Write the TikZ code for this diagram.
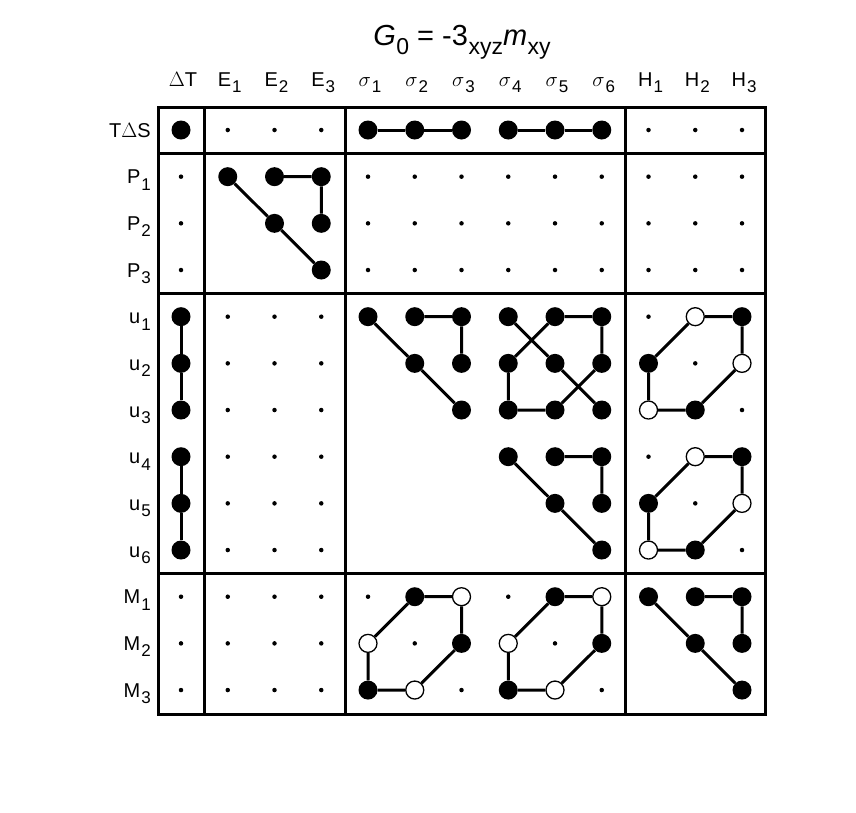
\documentclass[tikz,border=0pt]{standalone}
\usepackage{fontspec}
\setmainfont{Liberation Sans}
\newcommand\sbs[1]{\kern1pt\raisebox{-0.6ex}{\fontsize{17}{17}\selectfont #1}}
\newcommand\tsbs[1]{\kern0.5pt\raisebox{-0.6ex}{\fontsize{23}{23}\selectfont #1}}
\newcommand\dotnode[3]{\node[#1] (d-#2-#3) at ({181+46.75*#2},{130+46.67*#3}) {};}
\newcommand\tribl[2]{%
 \pgfmathtruncatemacro\tca{#1+1}\pgfmathtruncatemacro\tcb{#1+2}%
 \pgfmathtruncatemacro\tra{#2+1}\pgfmathtruncatemacro\trb{#2+2}%
 \dotnode{big}{#1}{#2}\dotnode{big}{\tca}{#2}\dotnode{big}{\tcb}{#2}%
 \dotnode{big}{\tca}{\tra}\dotnode{big}{\tcb}{\tra}\dotnode{big}{\tcb}{\trb}%
 \draw[link] (d-#1-#2)--(d-\tca-\tra)--(d-\tcb-\trb) (d-\tca-#2)--(d-\tcb-#2)--(d-\tcb-\tra);}
\newcommand\hexbl[4]{%
 \pgfmathtruncatemacro\tca{#1+1}\pgfmathtruncatemacro\tcb{#1+2}%
 \pgfmathtruncatemacro\tra{#2+1}\pgfmathtruncatemacro\trb{#2+2}%
 \dotnode{small}{#1}{#2}\dotnode{small}{\tca}{\tra}\dotnode{small}{\tcb}{\trb}%
 \dotnode{#3}{\tca}{#2}\dotnode{#3}{\tcb}{\tra}\dotnode{#3}{#1}{\trb}%
 \dotnode{#4}{\tcb}{#2}\dotnode{#4}{#1}{\tra}\dotnode{#4}{\tca}{\trb}%
 \draw[link] (d-#1-\tra)--(d-\tca-#2)--(d-\tcb-#2)--(d-\tcb-\tra)--(d-\tca-\trb)--(d-#1-\trb)--(d-#1-\tra);}
\begin{document}
\begin{tikzpicture}[x=1pt,y=-1pt,
 big/.style={circle,fill=black,inner sep=0pt,minimum size=19pt},
 open/.style={circle,draw=black,fill=white,line width=1.3pt,inner sep=0pt,minimum size=18pt},
 small/.style={circle,fill=black,inner sep=0pt,minimum size=4.5pt},
 link/.style={line width=3pt},
 frame/.style={line width=3pt},
 lab/.style={font=\fontsize{20}{20}\selectfont,inner sep=0pt}]
\useasboundingbox (0,0) rectangle (856,812);
\node[lab,font=\fontsize{29}{29}\selectfont] (title) at (462,42) {\textit{G}\tsbs{0} = -3\tsbs{xyz}\textit{m}\tsbs{xy}};
\foreach \t [count=\i from 0] in {$\Delta$T,E\sbs{1},E\sbs{2},E\sbs{3},$\sigma$\sbs{1},$\sigma$\sbs{2},$\sigma$\sbs{3},$\sigma$\sbs{4},$\sigma$\sbs{5},$\sigma$\sbs{6},H\sbs{1},H\sbs{2},H\sbs{3}}
 \node[lab,anchor=base] (h\i) at ({183+46.75*\i},86) {\t};
\foreach \t [count=\i from 0] in {T$\Delta$S,P\sbs{1},P\sbs{2},P\sbs{3},u\sbs{1},u\sbs{2},u\sbs{3},u\sbs{4},u\sbs{5},u\sbs{6},M\sbs{1},M\sbs{2},M\sbs{3}}
 \node[lab,anchor=base east] (r\i) at (151,{137+46.67*\i}) {\t};
\draw[frame] (158,107) rectangle (765,714);
\draw[frame] (204,107) -- (204,714) (345,107) -- (345,714) (625,107) -- (625,714)
 (158,153) -- (765,153) (158,293) -- (765,293) (158,573) -- (765,573);
\foreach \c/\r in {1/0,2/0,3/0,10/0,11/0,12/0,
 0/1,0/2,0/3,1/4,2/4,3/4,1/5,2/5,3/5,1/6,2/6,3/6,1/7,2/7,3/7,1/8,2/8,3/8,1/9,2/9,3/9,
 0/10,1/10,2/10,3/10,0/11,1/11,2/11,3/11,0/12,1/12,2/12,3/12}
 {\dotnode{small}{\c}{\r}}
\foreach \r in {1,2,3} \foreach \c in {4,...,12} {\dotnode{small}{\c}{\r}}
\dotnode{big}{0}{0}
\foreach \c in {4,...,9} {\dotnode{big}{\c}{0}}
\draw[link] (d-4-0)--(d-5-0)--(d-6-0) (d-7-0)--(d-8-0)--(d-9-0);
\foreach \r in {4,...,9} {\dotnode{big}{0}{\r}}
\draw[link] (d-0-4)--(d-0-5)--(d-0-6) (d-0-7)--(d-0-8)--(d-0-9);
\tribl{1}{1}
\tribl{4}{4}
\tribl{7}{7}
\tribl{10}{10}
\foreach \c in {7,8,9} \foreach \r in {4,5,6} {\dotnode{big}{\c}{\r}}
\draw[link] (d-7-4)--(d-8-5)--(d-9-6) (d-8-4)--(d-7-5) (d-8-4)--(d-9-4)--(d-9-5)--(d-8-6)
 (d-7-5)--(d-7-6)--(d-8-6);
\hexbl{10}{4}{open}{big}
\hexbl{10}{7}{open}{big}
\hexbl{4}{10}{big}{open}
\hexbl{7}{10}{big}{open}
\end{tikzpicture}
\end{document}
